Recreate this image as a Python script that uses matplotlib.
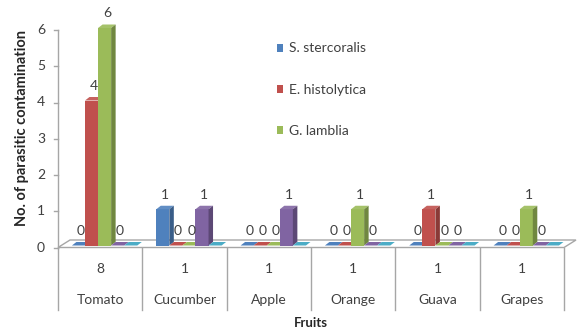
import matplotlib
matplotlib.use("Agg")
import matplotlib.pyplot as plt
from matplotlib.patches import Polygon, Patch
from matplotlib.transforms import ScaledTranslation
import numpy as np

# Data
fruits = ["Tomato", "Cucumber", "Apple", "Orange", "Guava", "Grapes"]
totals = [8, 1, 1, 1, 1, 1]
s_stercoralis = [0, 1, 0, 0, 0, 0]
e_histolytica = [4, 0, 0, 0, 1, 0]
g_lamblia = [6, 0, 0, 1, 0, 1]
series4 = [0, 1, 1, 0, 0, 0]
series5 = [0, 0, 0, 0, 0, 0]

series = [s_stercoralis, e_histolytica, g_lamblia, series4, series5]
legend_names = ["S. stercoralis", "E. histolytica", "G. lamblia"]
labelled = [True, True, True, True, False]
colors = ["#4F81BD", "#C0504D", "#9BBB59", "#8064A2", "#4BACC6"]

plt.rcParams["font.family"] = ["Lato", "DejaVu Sans"]
FS = 10

W, H = 577, 330
fig = plt.figure(figsize=(W / 100, H / 100), dpi=100)

# plot area in pixels
x_left, x_right = 58, 564
y_zero = 247.5
px_per_unit = 36.25
ymax = 6.6
ax = fig.add_axes([x_left / W, (H - y_zero) / H, (x_right - x_left) / W,
                   ymax * px_per_unit / H])
ax.set_xlim(-0.5, len(fruits) - 0.5)
ax.set_ylim(0, ymax)
ax.axis("off")

xu = (x_right - x_left) / len(fruits)  # pixels per category


def shade(c, f):
    c = np.array(matplotlib.colors.to_rgb(c))
    return tuple(np.clip(c * f, 0, 1))


def lighten(c, f):
    c = np.array(matplotlib.colors.to_rgb(c))
    return tuple(np.clip(c + (1 - c) * f, 0, 1))


# floor (3D)
fdx, fdy = 12 / xu, 7.5 / px_per_unit
floor = Polygon([(-0.5, 0), (5.5, 0), (5.5 + fdx, fdy), (-0.5 + fdx, fdy)],
                closed=True, facecolor="white", edgecolor="#A6A6A6", lw=1.0,
                clip_on=False, zorder=1)
ax.add_patch(floor)

# bars sit a bit behind the floor's front edge
shift = ScaledTranslation(0, 2 / 100, fig.dpi_scale_trans)
bt = ax.transData + shift

bw = 0.155
start = -0.335
ddx, ddy = 4.5 / xu, 3.5 / px_per_unit
x = np.arange(len(fruits))

for i, (vals, col) in enumerate(zip(series, colors)):
    lefts = x + start + i * bw
    ax.bar(lefts, vals, width=bw, align="edge", color=col,
           edgecolor="none", transform=bt, zorder=3 + i, clip_on=False)
    for xl, v in zip(lefts, vals):
        xr = xl + bw
        top = Polygon([(xl, v), (xr, v), (xr + ddx, v + ddy), (xl + ddx, v + ddy)],
                      closed=True, facecolor=lighten(col, 0.1) if v > 0 else col,
                      edgecolor="none", transform=bt, zorder=3 + i, clip_on=False)
        ax.add_patch(top)
        if v > 0:
            side = Polygon([(xr, 0), (xr, v), (xr + ddx, v + ddy), (xr + ddx, ddy)],
                           closed=True, facecolor=shade(col, 0.72),
                           edgecolor="none", transform=bt, zorder=3 + i,
                           clip_on=False)
            ax.add_patch(side)
        if labelled[i]:
            ax.annotate(f"{v:g}", xy=(xl + bw / 2 + ddx / 2, v), xycoords=bt,
                        xytext=(0, 10.5), textcoords="offset points",
                        ha="center", va="center", fontsize=FS, color="#404040",
                        zorder=20, annotation_clip=False)

# y axis
ax.plot([-0.5, -0.5], [0, 6], color="#A6A6A6", lw=1.0, clip_on=False, zorder=2)
for t in range(7):
    ax.plot([-0.5 - 4 / xu, -0.5], [t, t], color="#A6A6A6", lw=1.0,
            clip_on=False, zorder=2)
    ax.text(-0.5 - 17 / xu, t, str(t), ha="center", va="center",
            fontsize=FS, color="#404040")

# category axis with two label levels
to_px = lambda py: (y_zero - py) / px_per_unit  # pixel row -> data y
for b in range(len(fruits) + 1):
    ax.plot([b - 0.5, b - 0.5], [0, to_px(310)], color="#A6A6A6", lw=1.0,
            clip_on=False, zorder=2)
for xi, (name, tot) in enumerate(zip(fruits, totals)):
    ax.text(xi, to_px(269), str(tot), ha="center", va="center", fontsize=FS,
            color="#404040")
    ax.text(xi, to_px(300), name, ha="center", va="center", fontsize=FS,
            color="#404040")

fig.text(311 / W, 1 - 323 / H, "Fruits", ha="center", va="center",
         fontsize=9.5, fontweight="bold", color="#262626")
fig.text(22 / W, 1 - 128 / H, "No. of parasitic contamination", ha="center",
         va="center", rotation=90, fontsize=10.5, fontweight="bold",
         color="#262626")

# legend
handles = [Patch(facecolor=c, edgecolor="none") for c in colors[:3]]
fig.legend(handles, legend_names, loc="upper left",
           bbox_to_anchor=(264 / W, 1 - 30 / H), frameon=False, fontsize=FS,
           handlelength=0.5, handleheight=0.5, handletextpad=0.4,
           labelspacing=2.1, labelcolor="#404040")

fig.savefig("out.png", dpi=100)
